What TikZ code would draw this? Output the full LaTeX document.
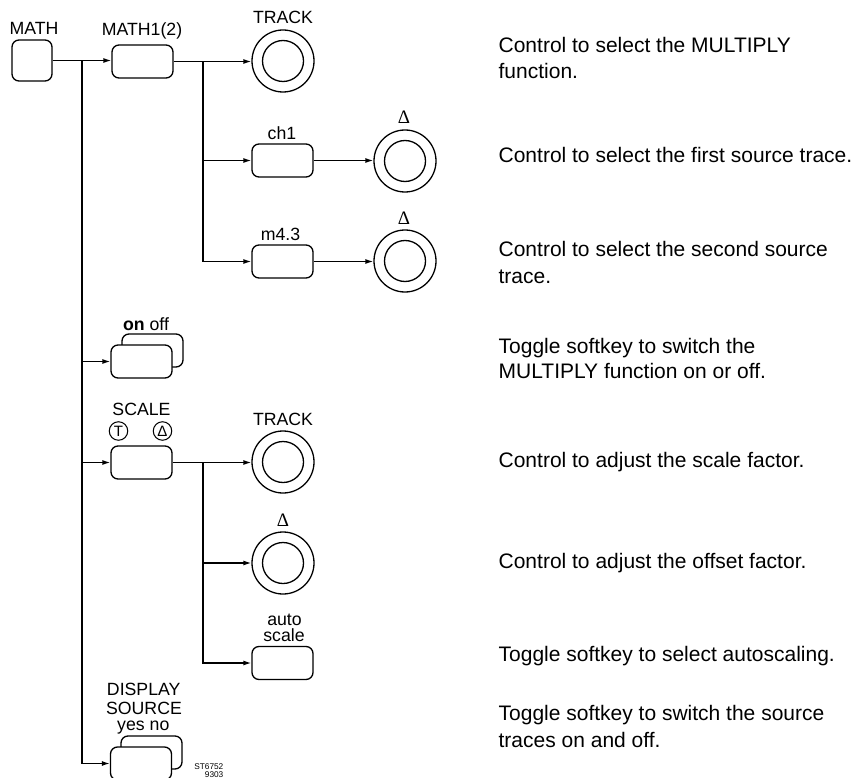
\documentclass[tikz,border=0pt]{standalone}
\usepackage{fontspec}
\setmainfont{Liberation Sans}
\newfontfamily\seriffont{Liberation Serif}
\usetikzlibrary{arrows.meta}
\begin{document}
\begin{tikzpicture}[x=1pt,y=-1pt,
  line width=1.3pt,
  key/.style={draw,rounded corners=7pt,minimum width=61pt,minimum height=33pt,inner sep=0pt,fill=white},
  knob/.style={draw,circle,minimum size=62pt,inner sep=0pt,
    path picture={\draw[line width=1.3pt] (path picture bounding box.center) circle (20.5pt);}},
  small/.style={draw,circle,minimum size=18.5pt,inner sep=0pt,line width=1pt,font=\fontsize{15}{15}\selectfont},
  lab/.style={anchor=base,inner sep=0pt,font=\fontsize{17.7}{18}\selectfont},
  dlab/.style={anchor=base,inner sep=0pt,font=\seriffont\fontsize{19}{19}\selectfont},
  desc/.style={anchor=base west,inner sep=0pt,font=\fontsize{21}{26}\selectfont},
  arr/.style={-{Latex[length=8pt,width=5pt]}}]
\useasboundingbox (0,0) rectangle (856,778);

% keys
\node[key,minimum width=40pt,minimum height=41pt] (math) at (32,60.5) {};
\node[key] (math1) at (142.5,61.5) {};
\node[key] (ch1) at (282.5,160.5) {};
\node[key] (m43) at (282.5,261.5) {};
\node[key] (onoffb) at (152.5,350.5) {};
\node[key] (onoff) at (141.5,361.5) {};
\node[key] (scale) at (141.5,462.5) {};
\node[key] (auto) at (282.5,663) {};
\node[key] (dispb) at (151.5,752.5) {};
\node[key] (disp) at (141,763.5) {};

% knobs
\node[knob] (track1) at (283,61) {};
\node[knob] (k1) at (405,161) {};
\node[knob] (k2) at (405,261) {};
\node[knob] (track2) at (283,462) {};
\node[knob] (k3) at (283,563) {};

% labels
\node[lab] (lmath) at (34,35) {MATH};
\node[lab] (lmath1) at (142,36) {MATH1(2)};
\node[lab] (ltrack1) at (283,23.3) {TRACK};
\node[lab] (lch1) at (282,139.3) {ch1};
\node[dlab] (ld1) at (404,124) {Δ};
\node[lab] (lm43) at (280.5,240.7) {m4.3};
\node[dlab] (ld2) at (404,224) {Δ};
\node[lab] (lonoff) at (146,330.7) {\textbf{on} off};
\node[lab] (lscale) at (141.5,415) {SCALE};
\node[small] (st) at (118.5,431) {T};
\node[small] (sd) at (162.5,431) {Δ};
\node[lab] (ltrack2) at (283,425) {TRACK};
\node[dlab] (ld3) at (283,526) {Δ};
\node[lab] (lauto) at (284.5,625) {auto};
\node[lab] (lautos) at (284,641.7) {scale};
\node[lab] (ldisp) at (143.7,695) {DISPLAY};
\node[lab] (lsrc) at (144,714.3) {SOURCE};
\node[lab] (lyes) at (143.3,730.5) {yes no};
\node[anchor=base east,inner sep=0pt,font=\fontsize{8.3}{8.3}\selectfont] (st1) at (224,769.5) {ST6752};
\node[anchor=base east,inner sep=0pt,font=\fontsize{8.3}{8.3}\selectfont] (st2) at (224,777) {9303};

% connectors
\coordinate (t0) at (82,60.5);
\coordinate (b1) at (203,61.5);
\coordinate (b2) at (203,462.5);
\draw[arr] (math.east) -- (math1.west |- math.east);
\draw[arr] (t0) |- (disp.west);
\draw[arr] (t0 |- onoff.west) -- (onoff.west);
\draw[arr] (t0 |- scale.west) -- (scale.west);
\draw[arr] (math1.east) -- (track1.west |- math1.east);
\draw[arr] (b1) |- (m43.west);
\draw[arr] (b1 |- ch1.west) -- (ch1.west);
\draw[arr] (ch1.east) -- (k1.west |- ch1.east);
\draw[arr] (m43.east) -- (k2.west |- m43.east);
\draw[arr] (scale.east) -- (track2.west |- scale.east);
\draw[arr] (b2) |- (auto.west);
\draw[arr] (b2 |- k3.west) -- (k3.west);

% descriptions
\node[desc] (d1a) at (498,52.7) {Control to select the MULTIPLY};
\node[desc] (d1b) at (498,79) {function.};
\node[desc] (d2) at (498,163) {Control to select the first source trace.};
\node[desc] (d3a) at (498,256) {Control to select the second source};
\node[desc] (d3b) at (498,283) {trace.};
\node[desc] (d4a) at (498,353) {Toggle softkey to switch the};
\node[desc] (d4b) at (498,378) {MULTIPLY function on or off.};
\node[desc] (d5) at (498,467) {Control to adjust the scale factor.};
\node[desc] (d6) at (498,568) {Control to adjust the offset factor.};
\node[desc] (d7) at (498,661) {Toggle softkey to select autoscaling.};
\node[desc] (d8a) at (498,720) {Toggle softkey to switch the source};
\node[desc] (d8b) at (498,747) {traces on and off.};
\end{tikzpicture}
\end{document}
